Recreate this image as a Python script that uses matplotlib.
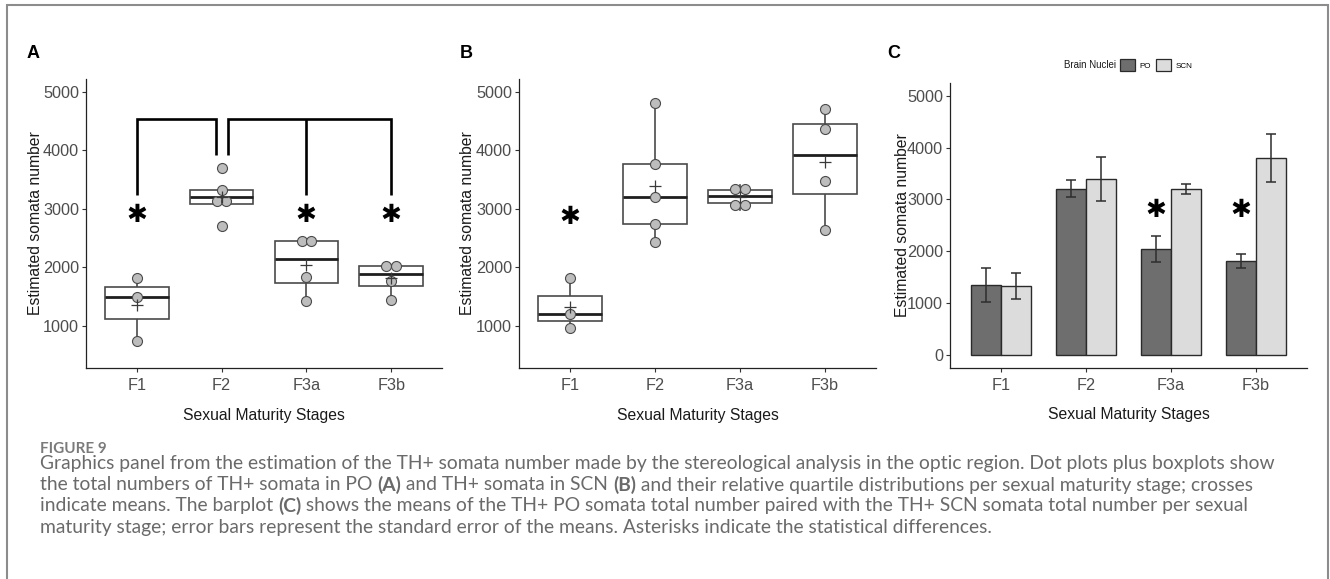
import numpy as np
import matplotlib
matplotlib.use("Agg")
import matplotlib.pyplot as plt
from matplotlib.patches import Patch, Rectangle

plt.rcParams['font.family'] = ['Liberation Sans', 'DejaVu Sans']

# ---------------- data ----------------
stages = ["F1", "F2", "F3a", "F3b"]
po_F1 = [738, 1496, 1826]
po_F2 = [2709, 3080, 3205, 3319, 3707]
po_F3a = [1427, 1846, 2434, 2486]
po_F3b = [1439, 1766, 2012, 2044]
scn_F1 = [966, 1205, 1820]
scn_F2 = [2436, 2749, 3205, 3764, 4812]
scn_F3a = [2983, 3143, 3291, 3405]
scn_F3b = [2635, 3471, 4375, 4711]
po_data = [po_F1, po_F2, po_F3a, po_F3b]
scn_data = [scn_F1, scn_F2, scn_F3a, scn_F3b]
nuclei = ["PO", "SCN"]
sig_A = [0, 2, 3]          # stages differing from F2 in PO
sig_B = [0]                # stage differing in SCN
sig_C = [2, 3]             # stages where PO differs from SCN
yticks = [1000, 2000, 3000, 4000, 5000]
yticks_c = [0, 1000, 2000, 3000, 4000, 5000]

W, H = 1330, 579
fig = plt.figure(figsize=(W / 100, H / 100), dpi=100)


def fx(x):
    return x / W


def fy(y):
    return 1 - y / H


def make_ax(l, t, r, b):
    return fig.add_axes([fx(l), fy(b), (r - l) / W, (b - t) / H])


TICK_COL = '#4d4d4d'
LAB_COL = '#1a1a1a'


def style(ax, ylim, ticks, ylab_x):
    ax.set_xlim(-0.6, 3.6)
    ax.set_ylim(*ylim)
    ax.set_xticks(range(len(stages)))
    ax.set_xticklabels(stages)
    ax.set_yticks(ticks)
    for s in ['top', 'right']:
        ax.spines[s].set_visible(False)
    for s in ['left', 'bottom']:
        ax.spines[s].set_color('#222222')
        ax.spines[s].set_linewidth(0.9)
    ax.tick_params(axis='x', length=3, width=0.8, color='#333333', pad=4.0,
                   labelsize=11.7, labelcolor=TICK_COL)
    ax.tick_params(axis='y', length=3, width=0.8, color='#333333', pad=2.0,
                   labelsize=11.7, labelcolor=TICK_COL)
    ax.set_ylabel("Estimated somata number", fontsize=11.3, color=LAB_COL)
    ax.set_xlabel("Sexual Maturity Stages", fontsize=11.3, color=LAB_COL)
    ax.yaxis.set_label_coords(ylab_x, 0.5)
    ax.xaxis.set_label_coords(0.5, -0.163)
    ax.xaxis.label.set_va('center')
    ax.yaxis.label.set_va('center')
    ax.patch.set_alpha(0)


def dot_bins(vals, bw):
    v = sorted(vals)
    out = []
    i = 0
    while i < len(v):
        start = v[i]
        grp = [v[i]]
        i += 1
        while i < len(v) and v[i] < start + bw:
            grp.append(v[i])
            i += 1
        out.append(((grp[0] + grp[-1]) / 2, len(grp)))
    return out


def box_dot(ax, data):
    pos = list(range(len(data)))
    bp = ax.boxplot(data, positions=pos, widths=0.75, whis=1.5, showfliers=False,
                    showcaps=False, patch_artist=True, manage_ticks=False)
    for b in bp['boxes']:
        b.set(facecolor='white', edgecolor='#4a4a4a', linewidth=1.2, zorder=2)
    for w in bp['whiskers']:
        w.set(color='#4a4a4a', linewidth=1.2, zorder=1)
    for m in bp['medians']:
        m.set(color='#1e1e1e', linewidth=2.0, zorder=3)
    dot_w = 0.115
    for i, vals in enumerate(data):
        for yc, k in dot_bins(vals, 170):
            xs = [i + (j - (k - 1) / 2) * dot_w for j in range(k)]
            ax.plot(xs, [yc] * k, 'o', ms=7.2, mfc='#bdbdbd', mec='#4a4a4a',
                    mew=0.8, zorder=4, ls='none')
        ax.plot(i, np.mean(vals), '+', ms=8, mew=0.9, color='#3a3a3a', zorder=5)


def asterisk(ax, x, y, size=18):
    ax.text(x, y, '\u2731', ha='center', va='center', fontsize=size,
            family=['DejaVu Sans'], color='black', zorder=6)


# ---------------- Panel A ----------------
axA = make_ax(86, 79, 442, 368)
style(axA, (282, 5222), yticks, -0.143)
box_dot(axA, po_data)
br_top, br_low, br_ref = 4544, 3234, 3929
bkw = dict(color='black', lw=1.9, solid_capstyle='butt', solid_joinstyle='miter', zorder=6)
axA.plot([0, 0, 1 - 0.07, 1 - 0.07], [br_low, br_top, br_top, br_ref], **bkw)
axA.plot([1 + 0.07, 1 + 0.07, 3, 3], [br_ref, br_top, br_top, br_low], **bkw)
axA.plot([2, 2], [br_top, br_low], **bkw)
for i in sig_A:
    asterisk(axA, i, 2892)

# ---------------- Panel B ----------------
axB = make_ax(519, 79, 876, 368)
style(axB, (282, 5222), yticks, -0.143)
box_dot(axB, scn_data)
for i in sig_B:
    asterisk(axB, i, 2863)

# ---------------- Panel C ----------------
axC = make_ax(950, 83, 1307, 368)
style(axC, (-251, 5245), yticks_c, -0.134)
x = np.arange(len(stages))
bw = 0.35
po_mean = [np.mean(v) for v in po_data]
po_se = [np.std(v, ddof=1) / np.sqrt(len(v)) for v in po_data]
scn_mean = [np.mean(v) for v in scn_data]
scn_se = [np.std(v, ddof=1) / np.sqrt(len(v)) for v in scn_data]
col_po, col_scn = '#6e6e6e', '#dcdcdc'
axC.bar(x - bw / 2, po_mean, bw, color=col_po, edgecolor='#2a2a2a', lw=1.0, zorder=2)
axC.bar(x + bw / 2, scn_mean, bw, color=col_scn, edgecolor='#2a2a2a', lw=1.0, zorder=2)
ekw = dict(fmt='none', ecolor='#2e2e2e', elinewidth=1.1, capsize=3.6, capthick=1.1, zorder=3)
axC.errorbar(x - bw / 2, po_mean, yerr=po_se, **ekw)
axC.errorbar(x + bw / 2, scn_mean, yerr=scn_se, **ekw)
for i in sig_C:
    asterisk(axC, i - bw / 2, 2796)

handles = [Patch(facecolor=col_po, edgecolor='#2a2a2a', lw=0.9),
           Patch(facecolor=col_scn, edgecolor='#2a2a2a', lw=0.9)]
axC.legend(handles, nuclei, ncol=2, loc='center left',
           bbox_to_anchor=(fx(1120), fy(65)), bbox_transform=fig.transFigure,
           frameon=False, fontsize=5.8, handlelength=1.85, handleheight=1.85,
           handletextpad=0.6, columnspacing=0.6, borderpad=0, borderaxespad=0)
fig.text(fx(1116), fy(65), "Brain Nuclei", ha='right', va='center', fontsize=7,
         color='#1a1a1a')

# panel letters
for lab, px in [("A", 27), ("B", 460), ("C", 887)]:
    fig.text(fx(px), fy(53), lab, ha='left', va='center', fontsize=13,
             fontweight='bold', color='black')

# ---------------- frame and caption ----------------
fig.add_artist(Rectangle((fx(6.5), fy(640)), (1327.5 - 6.5) / W, (640 - 5) / H,
                         transform=fig.transFigure, fill=False, edgecolor='#8c8c8c',
                         lw=1.5))

cap_font = ['Lato', 'DejaVu Sans']
cap_col = '#6a6a6a'
fig.text(fx(40), fy(449), "FIGURE 9", ha='left', va='center', fontsize=11,
         family=cap_font, fontweight='bold', color='#7a7a7a')

lines = [
    [("Graphics panel from the estimation of the TH+ somata number made by the stereological "
      "analysis in the optic region. Dot plots plus boxplots show", 'normal')],
    [("the total numbers of TH+ somata in PO ", 'normal'), ("(A)", 'bold'),
     (" and TH+ somata in SCN ", 'normal'), ("(B)", 'bold'),
     (" and their relative quartile distributions per sexual maturity stage; crosses", 'normal')],
    [("indicate means. The barplot ", 'normal'), ("(C)", 'bold'),
     (" shows the means of the TH+ PO somata total number paired with the TH+ SCN somata "
      "total number per sexual", 'normal')],
    [("maturity stage; error bars represent the standard error of the means. Asterisks "
      "indicate the statistical differences.", 'normal')],
]
renderer = fig.canvas.get_renderer()
probe = fig.text(0, 0, lines[0][0][0], fontsize=10, family=cap_font)
wpx = probe.get_window_extent(renderer).width
probe.remove()
cap_size = 10 * (1238 / wpx)
ys = [464, 485, 506, 527]
for parts, y in zip(lines, ys):
    cx = 40
    for txt, wgt in parts:
        t = fig.text(fx(cx), fy(y), txt, ha='left', va='center', fontsize=cap_size,
                     family=cap_font, fontweight=wgt, color=cap_col)
        cx += t.get_window_extent(renderer).width

fig.savefig("out.png", dpi=100)
